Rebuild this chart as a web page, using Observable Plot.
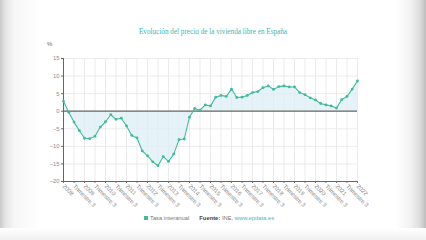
<!DOCTYPE html>
<html>
<head>
<meta charset="utf-8">
<script src="https://cdn.jsdelivr.net/npm/d3@7"></script>
<script src="https://cdn.jsdelivr.net/npm/@observablehq/plot@0.6"></script>
<style>
  html, body { margin: 0; padding: 0; }
  body { width: 426px; height: 240px; position: relative; overflow: hidden; background: #ffffff; font-family: "Liberation Sans", Arial, sans-serif; }
  #frameL { position: absolute; left: 0; top: 0; width: 40px; height: 240px; background: linear-gradient(to right, #c9c9c9 0px, #e4e4e4 5px, #f6f6f6 14px, #ffffff 40px); }
  #frameR { position: absolute; right: 0; top: 0; width: 30px; height: 240px; background: linear-gradient(to left, #bdbdbd 0px, #dcdcdc 6px, #f3f3f3 16px, #ffffff 30px); }
  #frameB { position: absolute; left: 0; top: 228px; width: 426px; height: 12px; background: linear-gradient(to bottom, #ffffff 0px, #f0f0f0 12px); }
  #title { position: absolute; left: 0; width: 426px; top: 28px; text-align: center; font-family: "Liberation Serif", "DejaVu Serif", serif; font-size: 7.2px; color: #3cb5b3; }
  #chart { position: absolute; left: 0; top: 0; }
  #unit { position: absolute; left: 47px; top: 41px; font-size: 6px; color: #666; }
  #legend { position: absolute; left: 144px; top: 215px; font-size: 5.8px; color: #777; white-space: nowrap; }
  #legend .sw { display: inline-block; width: 4px; height: 4px; background: #3dbb9c; margin-right: 2px; vertical-align: 0px; }
  #legend .gap { display: inline-block; width: 10px; }
  #legend b { color: #444; }
  #legend a { color: #3fb8c6; text-decoration: none; }
</style>
</head>
<body>
<div id="frameL"></div>
<div id="frameR"></div>
<div id="frameB"></div>
<div id="chart"></div>
<div id="title">Evolución del precio de la vivienda libre en España</div>
<div id="unit">%</div>
<div id="legend"><span class="sw"></span>Tasa interanual<span class="gap"></span><b>Fuente:</b> INE, <a>www.epdata.es</a></div>
<script>
const startYear = 2008;
// Quarterly year-on-year rate, 2008 Q1 .. 2022 Q1
const values = [
  2.8, -0.3, -3.1, -5.5,
  -7.7, -7.8, -7.1, -4.5,
  -3.0, -1.0, -2.3, -2.0,
  -4.2, -6.9, -7.6, -11.3,
  -12.7, -14.4, -15.5, -12.9,
  -14.3, -12.2, -8.1, -7.9,
  -1.7, 0.8, 0.3, 1.8,
  1.5, 4.0, 4.5, 4.2,
  6.3, 3.9, 4.0, 4.5,
  5.3, 5.6, 6.7, 7.2,
  6.2, 7.0, 7.2, 6.9,
  6.9, 5.3, 4.7, 3.8,
  3.2, 2.2, 1.8, 1.5,
  0.9, 3.3, 4.2, 6.3,
  8.6
];
const yTicks = [-20, -15, -10, -5, 0, 5, 10, 15];
const xTickLabels = [];
const xTickPos = [];
for (let i = 0; i < values.length; i += 2) {
  xTickPos.push(i);
  xTickLabels.push(i % 4 === 0 ? String(startYear + i / 4) : "Trimestre 3");
}
const data = values.map((v, i) => ({i, v}));

const teal = "#3dbb9c";
const plot = Plot.plot({
  width: 426,
  height: 212,
  marginLeft: 63,
  marginRight: 69,
  marginTop: 58,
  marginBottom: 31,
  style: {background: "transparent", fontFamily: "Liberation Sans, Arial, sans-serif", fontSize: "5.8px", color: "#777"},
  x: {domain: [0, values.length - 1], label: null},
  y: {domain: [-20, 15], label: null},
  marks: [
    Plot.gridX(xTickPos, {x: d => d, stroke: "#e6e6e6", strokeOpacity: 1, strokeWidth: 0.8}),
    Plot.gridY(yTicks, {y: d => d, stroke: "#e6e6e6", strokeOpacity: 1, strokeWidth: 0.8}),
    Plot.areaY(data, {x: "i", y1: 0, y2: "v", fill: "#dceef4", fillOpacity: 0.75}),
    Plot.ruleY([0], {stroke: "#666", strokeWidth: 1.3}),
    Plot.axisX({ticks: xTickPos, tickFormat: (d) => xTickLabels[xTickPos.indexOf(d)], tickRotate: 45, tickSize: 2, tickPadding: 2, stroke: "#777", fill: "#888", textAnchor: "start"}),
    Plot.ruleY([-20], {stroke: "#666", strokeWidth: 1}),
    Plot.axisY({ticks: yTicks, tickSize: 2, tickPadding: 2, fill: "#888", stroke: "#666"}),
    Plot.ruleX([0], {stroke: "#666", strokeWidth: 1}),
    Plot.line(data, {x: "i", y: "v", stroke: teal, strokeWidth: 1.1}),
    Plot.dot(data, {x: "i", y: "v", fill: teal, r: 1.4})
  ]
});
document.getElementById("chart").appendChild(plot);
</script>
</body>
</html>
